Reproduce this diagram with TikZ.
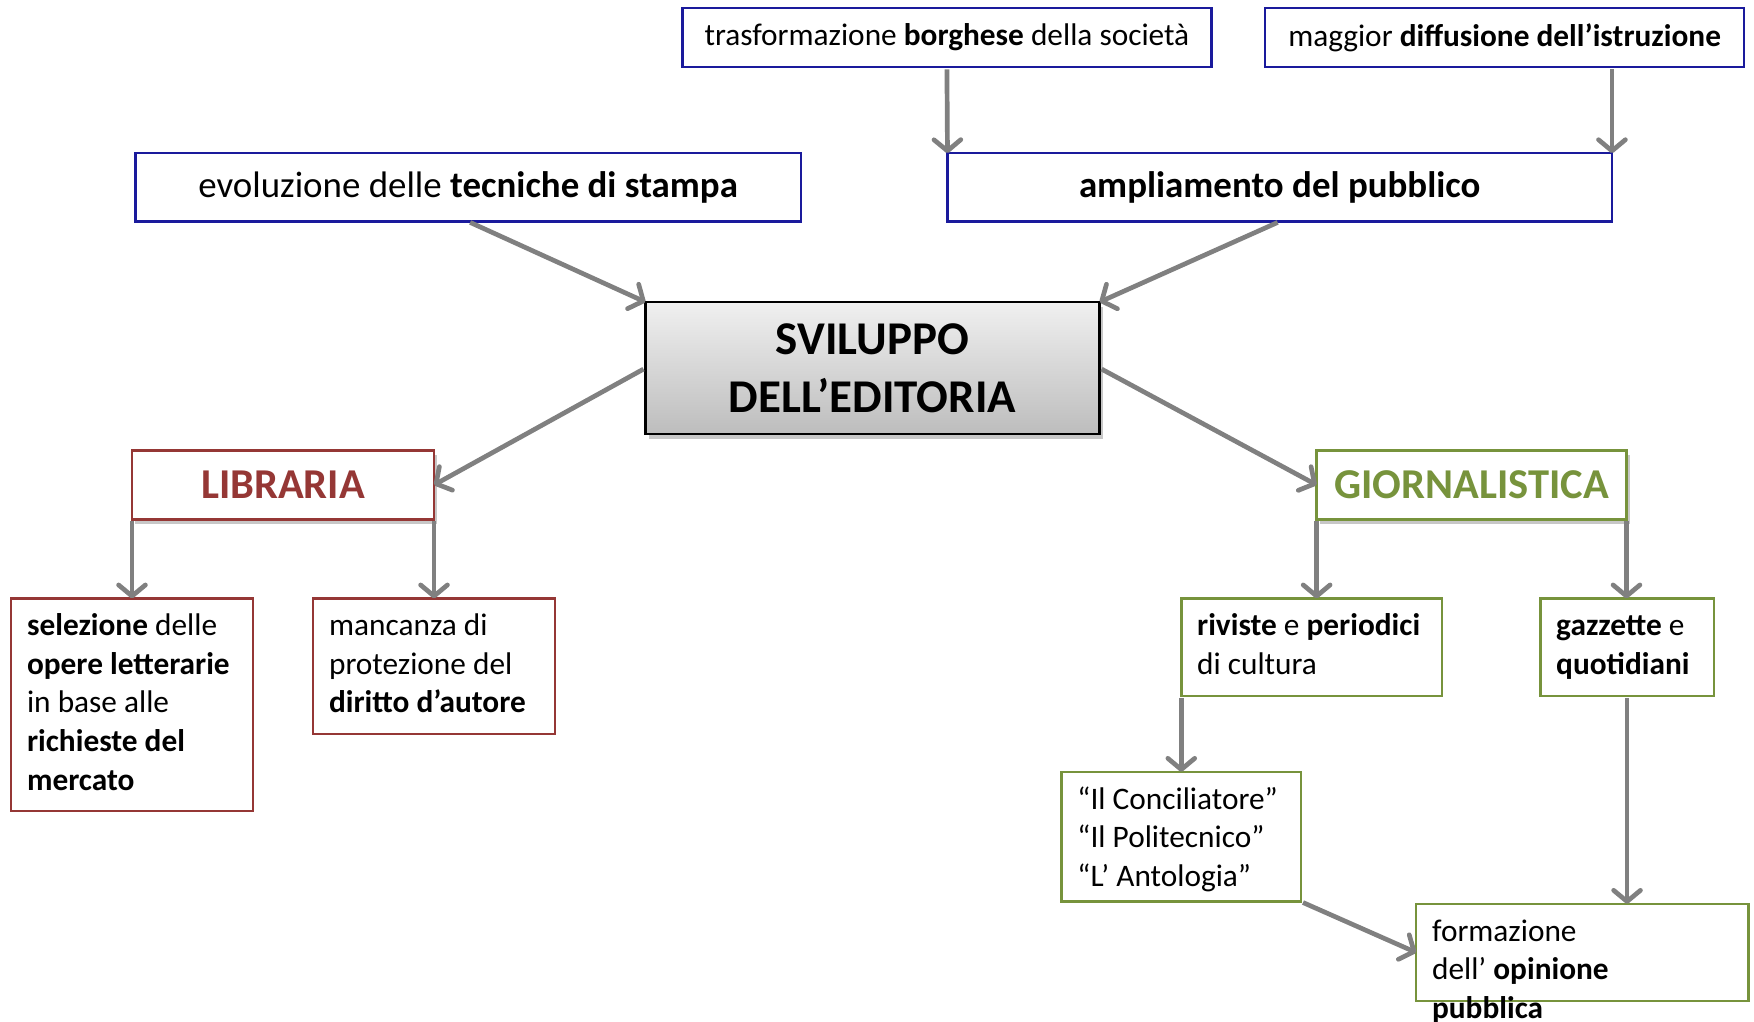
\documentclass[tikz,border=0pt]{standalone}
\usepackage{fontspec}
\setmainfont{Carlito}
\usetikzlibrary{arrows.meta,shadows}
\definecolor{bluebd}{HTML}{1A1A9C}
\definecolor{redbd}{HTML}{953735}
\definecolor{greenbd}{HTML}{77933C}
\definecolor{arrgray}{HTML}{808080}
\definecolor{gtop}{HTML}{F0F0F0}
\definecolor{gbot}{HTML}{BDBDBD}
\begin{document}
\begin{tikzpicture}[x=1pt,y=-1pt,
  box/.style={draw, rectangle, inner sep=0pt, outer sep=0pt, fill=white, line width=2.2pt},
  bluebox/.style={box, draw=bluebd},
  redbox/.style={box, draw=redbd},
  greenbox/.style={box, draw=greenbd},
  shad/.style={drop shadow={shadow xshift=3pt, shadow yshift=-4pt, opacity=0.22, fill=black}},
  conn/.style={draw=arrgray, line width=4.2pt, shorten <=2pt, -{Straight Barb[length=10pt,width=24pt,round]}},
  small/.style={font=\fontsize{28}{34.5}\selectfont},
  txt/.style={small, inner sep=0pt, align=left, anchor=north west, xshift=14pt, yshift=-9pt}
]
\useasboundingbox (0,0) rectangle (1568,913);

% top boxes
\node[bluebox, small, minimum width=473pt, minimum height=53pt] (trasf) at (846.5,33.5)
  {trasformazione \textbf{borghese} della società};
\node[bluebox, small, minimum width=428pt, minimum height=53pt] (magg) at (1345,33.5)
  {maggior \textbf{diffusione dell’istruzione}};
\node[bluebox, font=\fontsize{33}{40}\selectfont, minimum width=595pt, minimum height=61pt] (evol) at (418.5,167.5)
  {evoluzione delle \textbf{tecniche di stampa}};
\node[bluebox, font=\fontsize{33}{40}\selectfont\bfseries, minimum width=594pt, minimum height=61pt] (ampl) at (1144,167.5)
  {ampliamento del pubblico};

% central box
\node[box, draw=black, line width=2.4pt, top color=gtop, bottom color=gbot, shad,
      minimum width=406pt, minimum height=118pt, align=center,
      font=\fontsize{42}{52}\selectfont\bfseries] (svil) at (780,329)
  {SVILUPPO\\DELL’EDITORIA};

% branch boxes
\node[redbox, line width=2.6pt, shad, minimum width=270pt, minimum height=61pt, text=redbd,
      font=\fontsize{38}{46}\selectfont\bfseries] (lib) at (253,433.5) {LIBRARIA};
\node[greenbox, line width=2.6pt, shad, minimum width=277pt, minimum height=61pt, text=greenbd,
      font=\fontsize{38}{46}\selectfont\bfseries] (gio) at (1315.5,433.5) {GIORNALISTICA};

% leaf boxes
\node[redbox, minimum width=216pt, minimum height=190pt] (sel) at (118,630) {};
\node[txt] (selT) at (sel.north west)
  {\strut\textbf{selezione} delle\\\textbf{opere letterarie}\\in base alle\\\textbf{richieste del}\\\textbf{mercato}};
\node[redbox, minimum width=216pt, minimum height=121pt] (manc) at (388,595.5) {};
\node[txt] (mancT) at (manc.north west)
  {\strut mancanza di\\protezione del\\\textbf{diritto d’autore}};
\node[greenbox, minimum width=233pt, minimum height=87pt] (riv) at (1172.5,578.5) {};
\node[txt] (rivT) at (riv.north west)
  {\strut\textbf{riviste} e \textbf{periodici}\\di cultura};
\node[greenbox, minimum width=155pt, minimum height=87pt] (gaz) at (1454.5,578.5) {};
\node[txt] (gazT) at (gaz.north west)
  {\strut\textbf{gazzette} e\\\textbf{quotidiani}};
\node[greenbox, minimum width=214pt, minimum height=116pt] (conc) at (1056,748) {};
\node[txt] (concT) at (conc.north west)
  {\strut“Il Conciliatore”\\“Il Politecnico”\\“L’ Antologia”};
\node[greenbox, minimum width=297pt, minimum height=87pt] (form) at (1414.5,851.5) {};
\node[txt] (formT) at (form.north west)
  {\strut formazione\\dell’ \textbf{opinione}\\\textbf{pubblica}};

% connectors
\draw[conn] (evol.south) -- (svil.north west);
\draw[conn] (ampl.south) -- (svil.north east);
\draw[conn] (svil.west) -- (lib.east);
\draw[conn] (svil.east) -- (gio.west);
\draw[conn] (trasf.south) -- (ampl.north west);
\draw[conn] (magg.south -| ampl.north east) -- (ampl.north east);
\draw[conn] (lib.south west) -- (lib.south west |- sel.north);
\draw[conn] (lib.south east) -- (lib.south east |- manc.north);
\draw[conn] (gio.south west) -- (gio.south west |- riv.north);
\draw[conn] (gio.south east) -- (gio.south east |- gaz.north);
\draw[conn] (riv.south west) -- (riv.south west |- conc.north);
\draw[conn] (gaz.south) -- (gaz.south |- form.north);
\draw[conn] (conc.south east) -- (form.west);
\end{tikzpicture}
\end{document}
